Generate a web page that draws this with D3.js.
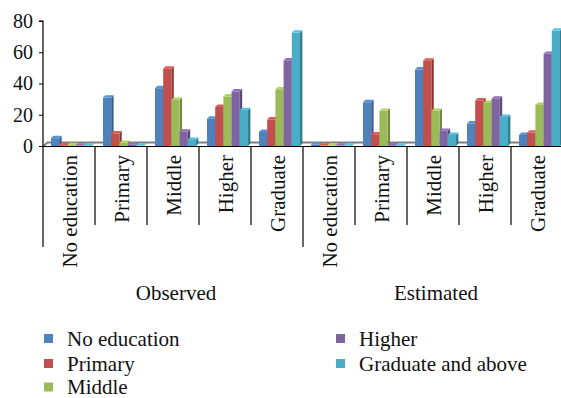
<!DOCTYPE html>
<html>
<head>
<meta charset="utf-8">
<script src="https://cdn.jsdelivr.net/npm/d3@7"></script>
<style>
  html, body { margin: 0; padding: 0; background: #fff; }
  svg { display: block; }
</style>
</head>
<body>
<svg id="chart" width="561" height="398"></svg>
<script>
// Groups and categories along the x axis
const groups = ["Observed", "Estimated"];
const categories = ["No education", "Primary", "Middle", "Higher", "Graduate"];
// Series (legend entries)
const seriesNames = ["No education", "Primary", "Middle", "Higher", "Graduate and above"];
const seriesColors = ["#4F81BD", "#C0504D", "#9BBB59", "#8064A2", "#4BACC6"];
// Percentages per series: 5 observed categories, then 5 estimated categories
const noEducation   = [5,   31,  37,   17.5, 9,     0.8, 28,  49,   14.4, 7.1];
const primary       = [0.5, 8,   49.5, 25,   17,    0.3, 7.5, 54.6, 29.2, 8.6];
const middle        = [0.5, 2,   29.5, 31.7, 36.3,  0.3, 22.5, 22.5, 27.6, 26.3];
const higher        = [0.3, 0.8, 9.2,  34.9, 54.8,  0.3, 0.5, 9.7,  30.3, 59];
const graduateAbove = [0.2, 0.3, 3.9,  23,   72.6,  0.3, 0.3, 7.1,  18.6, 73.9];
const yTicks = [0, 20, 40, 60, 80];

(function () {
  const FONT = "'Liberation Serif', 'Times New Roman', serif";
  const seriesValues = [noEducation, primary, middle, higher, graduateAbove];
  const keys = [];
  groups.forEach(g => categories.forEach(c => keys.push(g + "|" + c)));

  const svg = d3.select("#chart");
  const plotLeft = 43, plotRight = 563, plotTop = 21, plotBottom = 146;
  const depth = 2.4;      // 3D extrusion of bars
  const floorDepth = 4.5; // depth of the floor plane

  const x0 = d3.scaleBand().domain(keys).range([plotLeft, plotRight]).padding(0);
  const x1 = d3.scaleBand().domain(seriesNames).range([0, x0.bandwidth()])
    .paddingOuter(0.67).paddingInner(0);
  const y = d3.scaleLinear().domain([0, 80]).range([plotBottom, plotTop]);
  const clusterShift = 2.5;

  const g = svg.append("g");

  // floor back edge
  g.append("path")
    .attr("d", `M${plotLeft},${plotBottom + 0.5} L${plotLeft + floorDepth},${plotBottom - 3.5} L561,${plotBottom - 3.5}`)
    .attr("fill", "none").attr("stroke", "#7f7f7f").attr("stroke-width", 2);

  // bars: side face, front face, top face
  const barG = g.append("g");
  keys.forEach((k, ki) => {
    seriesNames.forEach((s, si) => {
      const v = seriesValues[si][ki];
      const c = d3.color(seriesColors[si]);
      const x = x0(k) + x1(s) + clusterShift;
      const w = x1.bandwidth();
      const yt = y(v), yb = y(0);
      const d = depth;
      const bg = barG.append("g");
      bg.append("path")
        .attr("d", `M${x + w},${yt} L${x + w + d},${yt - d} L${x + w + d},${yb - d} L${x + w},${yb} Z`)
        .attr("fill", c.darker(0.9));
      bg.append("rect")
        .attr("x", x).attr("y", yt).attr("width", w).attr("height", yb - yt)
        .attr("fill", c);
      bg.append("path")
        .attr("d", `M${x},${yt} L${x + d},${yt - d} L${x + w + d},${yt - d} L${x + w},${yt} Z`)
        .attr("fill", c.brighter(0.35));
    });
  });

  // x axis line
  const axisY = plotBottom + 0.5;
  g.append("line").attr("x1", plotLeft).attr("x2", 561).attr("y1", axisY).attr("y2", axisY)
    .attr("stroke", "#000").attr("stroke-width", 1);

  // category separators below axis
  d3.range(keys.length + 1).forEach(i => {
    const xx = plotLeft + i * x0.bandwidth();
    const long = i % categories.length === 0;
    g.append("line").attr("x1", xx).attr("x2", xx)
      .attr("y1", axisY).attr("y2", long ? 247 : 225)
      .attr("stroke", "#000").attr("stroke-width", 1.2);
  });

  // category labels (rotated)
  keys.forEach(k => {
    const cx = x0(k) + x0.bandwidth() / 2;
    g.append("text")
      .attr("transform", `translate(${cx + 1},155) rotate(-90)`)
      .attr("text-anchor", "end")
      .attr("dominant-baseline", "central")
      .attr("font-size", 21)
      .attr("fill", "#111")
      .text(k.split("|")[1]);
  });

  // group labels
  groups.forEach((gr, i) => {
    const gx = plotLeft + (i + 0.5) * categories.length * x0.bandwidth() + 3;
    g.append("text").attr("x", gx).attr("y", 300)
      .attr("text-anchor", "middle").attr("font-size", 21).attr("fill", "#111")
      .text(gr);
  });

  // y axis
  const yAxis = d3.axisLeft(y).tickValues(yTicks).tickSize(4).tickPadding(6);
  const ya = g.append("g").attr("transform", `translate(${plotLeft},0)`).call(yAxis);
  ya.attr("font-family", null).attr("font-size", null);
  ya.select(".domain").attr("stroke", "#000").attr("stroke-width", 1.2)
    .attr("d", `M-4,${plotTop}H0V${axisY}H-4`);
  ya.selectAll(".tick line").attr("stroke", "#000");
  ya.selectAll(".tick text").attr("font-size", 20).attr("fill", "#111");

  // legend
  const legendPos = [
    [44, 338.5], [44, 363.5], [44, 387],
    [336, 338.5], [336, 363.5]
  ];
  seriesNames.forEach((s, i) => {
    const [lx, ly] = legendPos[i];
    g.append("rect").attr("x", lx).attr("y", ly - 4.5).attr("width", 9).attr("height", 9)
      .attr("fill", seriesColors[i]);
    g.append("text").attr("x", lx + 23).attr("y", ly)
      .attr("dominant-baseline", "central")
      .attr("font-size", 21).attr("fill", "#111").text(s);
  });

  svg.selectAll("text").style("font-family", FONT);
})();
</script>
</body>
</html>
